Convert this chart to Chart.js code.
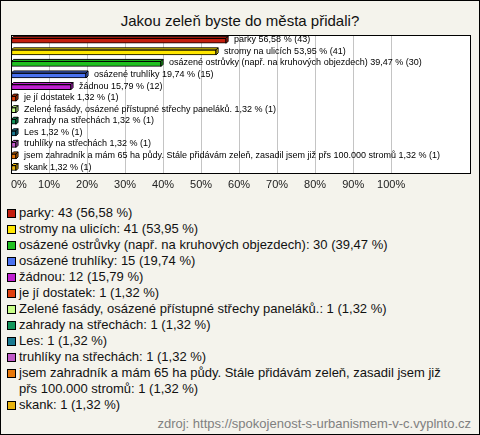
<!DOCTYPE html>
<html>
<head>
<meta charset="utf-8">
<script src="https://cdn.jsdelivr.net/npm/chart.js@4/dist/chart.umd.min.js"></script>
<style>
  body { margin: 0; }
  #wrap {
    position: relative; box-sizing: border-box; width: 480px; height: 435px;
    border: 1px solid #000; background: #f4f3ec;
    font-family: "Liberation Sans", Arial, sans-serif; color: #111;
  }
  #title { position: absolute; top: 11px; left: 0; width: 100%; text-align: center; font-size: 15px; }
  #box { position: absolute; left: -1px; top: 29px; width: 480px; height: 167px; }
  #legend { position: absolute; left: 6px; top: 204px; margin: 0; padding: 0; list-style: none; font-size: 13px; line-height: 16px; }
  #legend li { display: flex; align-items: flex-start; }
  #legend .sq { flex: none; width: 7px; height: 7px; border: 1px solid #000; margin: 4px 3px 0 0; }
  #legend .tx { max-width: 436px; }
  #src { position: absolute; right: 8px; top: 415px; font-size: 13px; line-height: 16px; color: #808080; }
</style>
</head>
<body>
<div id="wrap">
  <div id="title">Jakou zeleň byste do města přidali?</div>
  <div id="box"><canvas id="chart"></canvas></div>
  <ul id="legend"></ul>
  <div id="src">zdroj: https://spokojenost-s-urbanismem-v-c.vyplnto.cz</div>
</div>
<script>
const kategorie = [
  "parky",
  "stromy na ulicích",
  "osázené ostrůvky (např. na kruhových objezdech)",
  "osázené truhlíky",
  "žádnou",
  "je jí dostatek",
  "Zelené fasády, osázené přístupné střechy paneláků.",
  "zahrady na střechách",
  "Les",
  "truhlíky na střechách",
  "jsem zahradník a mám 65 ha půdy. Stále přidávám zeleň, zasadil jsem již přs 100.000 stromů",
  "skank"
];
const pocty = [43, 41, 30, 15, 12, 1, 1, 1, 1, 1, 1, 1];
const procenta = [56.58, 53.95, 39.47, 19.74, 15.79, 1.32, 1.32, 1.32, 1.32, 1.32, 1.32, 1.32];
const barvy = [
  "#c41e0e", "#ffe600", "#20c020", "#4a72f0", "#c020d0", "#e0400e",
  "#c8ff88", "#12955a", "#1a7a92", "#c05ac8", "#e8780a", "#e8b410"
];

const fmt = (v) => v.toFixed(2).replace(".", ",");

// legenda pod grafem
const legenda = document.getElementById("legend");
kategorie.forEach((k, i) => {
  const li = document.createElement("li");
  li.innerHTML = `<span class="sq" style="background:${barvy[i]}"></span><span class="tx">${k}: ${pocty[i]} (${fmt(procenta[i])} %)</span>`;
  legenda.appendChild(li);
});

const D = 2; // hloubka 3D efektu

const ramecek = {
  id: "ramecek",
  beforeDraw(chart) {
    const { ctx, chartArea: a } = chart;
    ctx.save();
    ctx.fillStyle = "#fff";
    ctx.fillRect(a.left, a.top, a.right - a.left, a.bottom - a.top);
    ctx.restore();
  },
  afterDraw(chart) {
    const { ctx, chartArea: a } = chart;
    ctx.save();
    ctx.strokeStyle = "#000";
    ctx.lineWidth = 1;
    ctx.strokeRect(Math.round(a.left) + 0.5, Math.round(a.top) + 0.5, Math.round(a.right - a.left) - 1, Math.round(a.bottom - a.top) - 1);
    ctx.restore();
  }
};

const popisky3d = {
  id: "popisky3d",
  afterDatasetsDraw(chart) {
    const { ctx } = chart;
    const meta = chart.getDatasetMeta(0);
    ctx.save();
    ctx.lineWidth = 1;
    ctx.strokeStyle = "#000";
    meta.data.forEach((bar, i) => {
      const { x, y, base, height } = bar.getProps(["x", "y", "base", "height"], true);
      const top = y - height / 2;
      const bottom = y + height / 2;
      ctx.fillStyle = barvy[i];
      // horní stěna
      ctx.beginPath();
      ctx.moveTo(base, top);
      ctx.lineTo(base + D, top - D);
      ctx.lineTo(x + D, top - D);
      ctx.lineTo(x, top);
      ctx.closePath();
      ctx.fill();
      ctx.stroke();
      // boční stěna
      ctx.beginPath();
      ctx.moveTo(x, top);
      ctx.lineTo(x + D, top - D);
      ctx.lineTo(x + D, bottom - D);
      ctx.lineTo(x, bottom);
      ctx.closePath();
      ctx.fill();
      ctx.stroke();
      // popisek
      ctx.fillStyle = "#000";
      ctx.font = '9px "Liberation Sans", Arial, sans-serif';
      ctx.textBaseline = "middle";
      ctx.fillText(`${kategorie[i]} ${fmt(procenta[i])} % (${pocty[i]})`, x + D + 6, y - 1);
    });
    ctx.restore();
  }
};

new Chart(document.getElementById("chart"), {
  type: "bar",
  data: {
    labels: kategorie,
    datasets: [{
      data: procenta,
      backgroundColor: barvy,
      borderColor: "#000",
      borderWidth: 1,
      borderSkipped: false,
      barThickness: 5
    }]
  },
  options: {
    indexAxis: "y",
    responsive: true,
    maintainAspectRatio: false,
    animation: false,
    layout: { padding: { left: 11, right: 9, top: 5, bottom: 0 } },
    plugins: { legend: { display: false }, tooltip: { enabled: false } },
    scales: {
      x: {
        min: 0,
        max: 121,
        ticks: {
          stepSize: 10,
          align: "inner",
          padding: 5,
          color: "#222",
          font: { family: '"Liberation Sans", Arial, sans-serif', size: 11 },
          callback: (v) => (v <= 100 ? v + "%" : "")
        },
        grid: {
          drawTicks: false,
          color: (c) => (c.tick && c.tick.value > 0 && c.tick.value <= 100 ? "#c4c4c4" : "rgba(0,0,0,0)")
        },
        border: { display: false }
      },
      y: { display: false }
    }
  },
  plugins: [ramecek, popisky3d]
});
</script>
</body>
</html>
